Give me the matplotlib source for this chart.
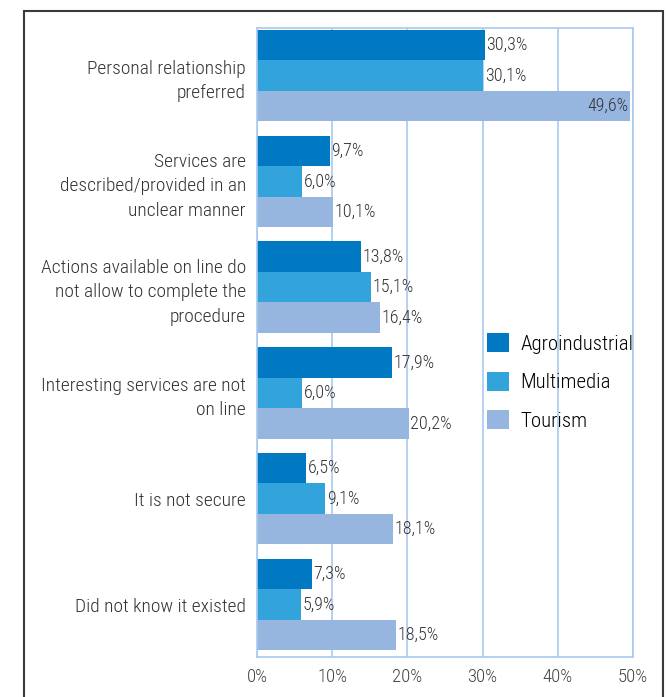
import matplotlib.pyplot as plt
import matplotlib.patches as mpatches
import numpy as np

plt.rcParams['font.family'] = ['Roboto Condensed', 'DejaVu Sans']
plt.rcParams['font.weight'] = 'light'

categories = ["Personal relationship\npreferred",
              "Services are\ndescribed/provided in an\nunclear manner",
              "Actions available on line do\nnot allow to complete the\nprocedure",
              "Interesting services are not\non line",
              "It is not secure",
              "Did not know it existed"]
series = ["Agroindustrial", "Multimedia", "Tourism"]
agro = [30.3, 9.7, 13.8, 17.9, 6.5, 7.3]
multi = [30.1, 6.0, 15.1, 6.0, 9.1, 5.9]
tourism = [49.6, 10.1, 16.4, 20.2, 18.1, 18.5]
colors = ['#0079C2', '#33A3DC', '#97B6DF']
ticks = [0, 10, 20, 30, 40, 50]

fig = plt.figure(figsize=(6.67, 6.97), dpi=100)
ax = fig.add_axes([0.3853, 0.0574, 0.5637, 0.9024])

y = np.arange(len(categories))
h = 0.288
for i, (vals, c, name) in enumerate(zip([agro, multi, tourism], colors, series)):
    pos = y + (i - 1) * h
    ax.barh(pos, vals, height=h, color=c, label=name, zorder=2)
    for p, v in zip(pos, vals):
        txt = f"{v:.1f}%".replace('.', ',')
        if v > 45:
            ax.text(v - 0.2, p, txt, ha='right', va='center', fontsize=13, color='#333333', zorder=3)
        else:
            ax.text(v + 0.2, p, txt, ha='left', va='center', fontsize=13, color='#333333', zorder=3)

ax.set_xlim(0, 50)
ax.set_ylim(5.496, -0.449)
ax.set_xticks(ticks)
ax.set_xticklabels([f"{t}%" for t in ticks], fontsize=13.5, color='#444444')
ax.set_yticks(y)
ax.set_yticklabels(categories, fontsize=14, color='#333333', linespacing=1.45)
ax.tick_params(length=0, pad=8)
ax.tick_params(axis='y', pad=8)
ax.grid(axis='x', color='#A9C9EE', lw=1.2, zorder=1)
for s in ax.spines.values():
    s.set_color('#A9C9EE')
    s.set_linewidth(1.2)

ax.legend(loc='upper left', bbox_to_anchor=(0.612, 0.515), frameon=False, fontsize=15,
          handlelength=1.05, handleheight=1.05, labelspacing=0.85, handletextpad=0.55,
          borderaxespad=0, borderpad=0)

frame = mpatches.Rectangle((24 / 667, -0.05), (663 - 24) / 667, 1.05 - 11 / 697,
                           transform=fig.transFigure, fill=False, edgecolor='#3a3a3a', lw=1.5)
fig.patches.append(frame)

fig.savefig('out.png', dpi=100)
